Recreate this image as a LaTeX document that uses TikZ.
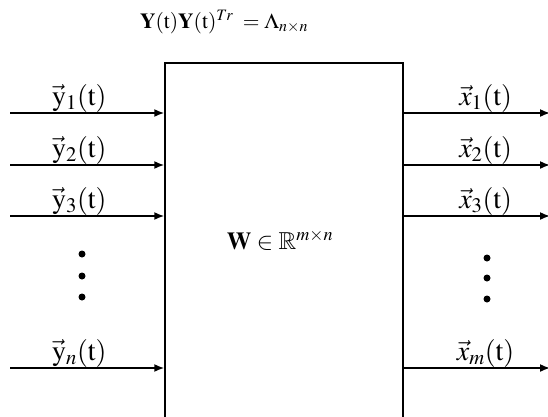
\documentclass[tikz,border=0pt]{standalone}
\usepackage{amsmath,amssymb}
\usepackage{mathptmx}
\usetikzlibrary{positioning,arrows.meta}

\begin{document}
\begin{tikzpicture}[x=1pt,y=-1pt,a/.style={-{Latex[length=10pt,width=8pt]},line width=1.6pt},lbl/.style={above=-1pt,font=\fontsize{28}{32}\selectfont,inner sep=1pt},dot/.style={circle,fill,inner sep=0pt,minimum size=7pt}]
\useasboundingbox (0,0) rectangle (548,416);
\node[font=\fontsize{21.5}{26}\selectfont](eq) at (224,22){$\mathbf{Y}(\mathrm{t})\mathbf{Y}(\mathrm{t})^{Tr}\;=\boldsymbol{\Lambda}_{n\times n}$};
\node[draw,line width=1.5pt,minimum width=238pt,minimum height=366pt](W) at (284,246){};
\node[font=\fontsize{24.5}{29}\selectfont](Wlbl) at (280,240){$\mathbf{W}\in\mathbb{R}^{m\times n}$};
% inputs and outputs
\foreach \i/\y/\sub/\osub in {1/113/1/1,2/165/2/2,3/216/3/3,4/368/n/m}{
\coordinate(yin\i) at (10,\y);
\coordinate(xout\i) at (550,\y);
\draw[a](yin\i)--node[lbl,pos=.45]{$\vec{\mathrm{y}}_{\sub}(\mathrm{t})$}(yin\i -| W.west);
\draw[a](xout\i -| W.east)--node[lbl,pos=.56]{$\vec{x}_{\osub}(\mathrm{t})$}(xout\i);
}
% dots
\foreach \j/\ly/\ry in {1/254/258,2/276/278,3/297/299}{
\node[dot](ld\j) at (82,\ly){};
\node[dot](rd\j) at (487,\ry){};
}
\end{tikzpicture}
\end{document}
